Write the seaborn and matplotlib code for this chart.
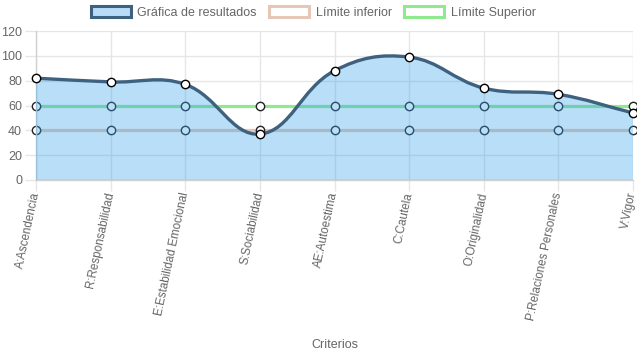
import numpy as np
import matplotlib
matplotlib.use("Agg")
import matplotlib.pyplot as plt
from matplotlib.path import Path
from matplotlib.patches import PathPatch, Patch
import seaborn as sns
import pandas as pd

# ── data ──
criterios = ["A:Ascendencia", "R:Responsabilidad", "E:Estabilidad Emocional",
             "S:Sociabilidad", "AE:Autoestima", "C:Cautela", "O:Originalidad",
             "P:Relaciones Personales", "V:Vigor"]
resultados = [82, 79, 77, 37, 88, 99, 74, 69, 54]
limite_inferior = [40, 40, 40, 40, 40, 40, 40, 40, 40]
limite_superior = [60, 60, 60, 60, 60, 60, 60, 60, 60]
y_ticks = [0, 20, 40, 60, 80, 100, 120]

# ── colours ──
C_RES_LINE = "#3f6180"
C_RES_FILL = (54 / 255, 162 / 255, 235 / 255)
C_INF = "#e6c6b6"
C_SUP = "#8fe98f"
C_GRID = "#e6e6e6"
C_TEXT = "#666666"

sns.set_theme(style="white")
plt.rcParams["font.family"] = ["Liberation Sans", "DejaVu Sans"]


def spline_path(xs, ys, sx, sy, tension=0.4, close_to=None):
    # Chart.js style cubic bezier through the points
    n = len(xs)
    cp_prev, cp_next = [], []
    for i in range(n):
        p, q = max(i - 1, 0), min(i + 1, n - 1)
        d01 = np.hypot((xs[i] - xs[p]) * sx, (ys[i] - ys[p]) * sy)
        d12 = np.hypot((xs[q] - xs[i]) * sx, (ys[q] - ys[i]) * sy)
        tot = d01 + d12
        s01 = d01 / tot if tot else 0
        s12 = d12 / tot if tot else 0
        fa, fb = tension * s01, tension * s12
        dx, dy = xs[q] - xs[p], ys[q] - ys[p]
        cp_prev.append((xs[i] - fa * dx, ys[i] - fa * dy))
        cp_next.append((xs[i] + fb * dx, ys[i] + fb * dy))
    verts = [(xs[0], ys[0])]
    codes = [Path.MOVETO]
    for i in range(n - 1):
        verts += [cp_next[i], cp_prev[i + 1], (xs[i + 1], ys[i + 1])]
        codes += [Path.CURVE4] * 3
    if close_to is not None:
        verts += [(xs[-1], close_to), (xs[0], close_to), (xs[0], ys[0])]
        codes += [Path.LINETO, Path.LINETO, Path.CLOSEPOLY]
    return Path(verts, codes)


df = pd.DataFrame({
    "x": np.arange(len(criterios)),
    "criterio": criterios,
    "resultado": resultados,
    "inferior": limite_inferior,
    "superior": limite_superior,
})

fig = plt.figure(figsize=(6.37, 3.59), dpi=100)
ax = fig.add_axes([36 / 637, 179 / 359, 597 / 637, 149 / 359])

xs = df["x"].to_numpy(float)
ys = df["resultado"].to_numpy(float)
sx, sy = 597 / 8, 149 / 120

# limit lines (under the fill)
for col, color in [("superior", C_SUP), ("inferior", C_INF)]:
    sns.lineplot(data=df, x="x", y=col, ax=ax, color=color, linewidth=2.3,
                 marker="o", markersize=6, markerfacecolor="white",
                 markeredgecolor="#222222", markeredgewidth=1.0,
                 clip_on=False, zorder=2, legend=False)

# result area + line
ax.add_patch(PathPatch(spline_path(xs, ys, sx, sy, close_to=0),
                       facecolor=C_RES_FILL, alpha=0.35, edgecolor="none",
                       zorder=3))
ax.add_patch(PathPatch(spline_path(xs, ys, sx, sy), facecolor="none",
                       edgecolor=C_RES_LINE, linewidth=2.4, zorder=4,
                       capstyle="round", joinstyle="round"))
sns.scatterplot(data=df, x="x", y="resultado", ax=ax, s=36, color="white",
                edgecolor="black", linewidth=1.0, zorder=5, clip_on=False,
                legend=False)

# axes styling
ax.set_xlim(0, len(criterios) - 1)
ax.set_ylim(0, 120)
ax.set_yticks(y_ticks)
ax.set_xticks(xs)
ax.set_xticklabels(criterios, rotation=78, ha="right", va="center",
                   rotation_mode="anchor", fontsize=8.4)
ax.grid(True, color=C_GRID, linewidth=1)
ax.set_axisbelow(True)
ax.tick_params(axis="both", which="both", length=8, width=1, color=C_GRID,
               labelcolor=C_TEXT, labelsize=9, pad=2, left=True, bottom=True)
ax.tick_params(axis="x", pad=1, labelsize=8.4)
for side in ["top", "right"]:
    ax.spines[side].set_visible(False)
for side in ["left", "bottom"]:
    ax.spines[side].set_color("#d0d0d0")
    ax.spines[side].set_linewidth(1)
ax.set_xlabel("Criterios", color=C_TEXT, fontsize=9)
ax.xaxis.set_label_coords(0.5, -1.07)
ax.set_ylabel("")

# legend
handles = [
    Patch(facecolor="#b8dbf8", edgecolor=C_RES_LINE, linewidth=2.2,
          label="Gráfica de resultados"),
    Patch(facecolor="white", edgecolor=C_INF, linewidth=2.2,
          label="Límite inferior"),
    Patch(facecolor="white", edgecolor=C_SUP, linewidth=2.2,
          label="Límite Superior"),
]
leg = fig.legend(handles=handles, loc="upper center",
                 bbox_to_anchor=(0.492, 1.015), ncol=3, frameon=False,
                 fontsize=9, handlelength=3.2, handleheight=0.95,
                 handletextpad=0.5, columnspacing=1.0)
for t in leg.get_texts():
    t.set_color(C_TEXT)

fig.savefig("out.png", dpi=100)
